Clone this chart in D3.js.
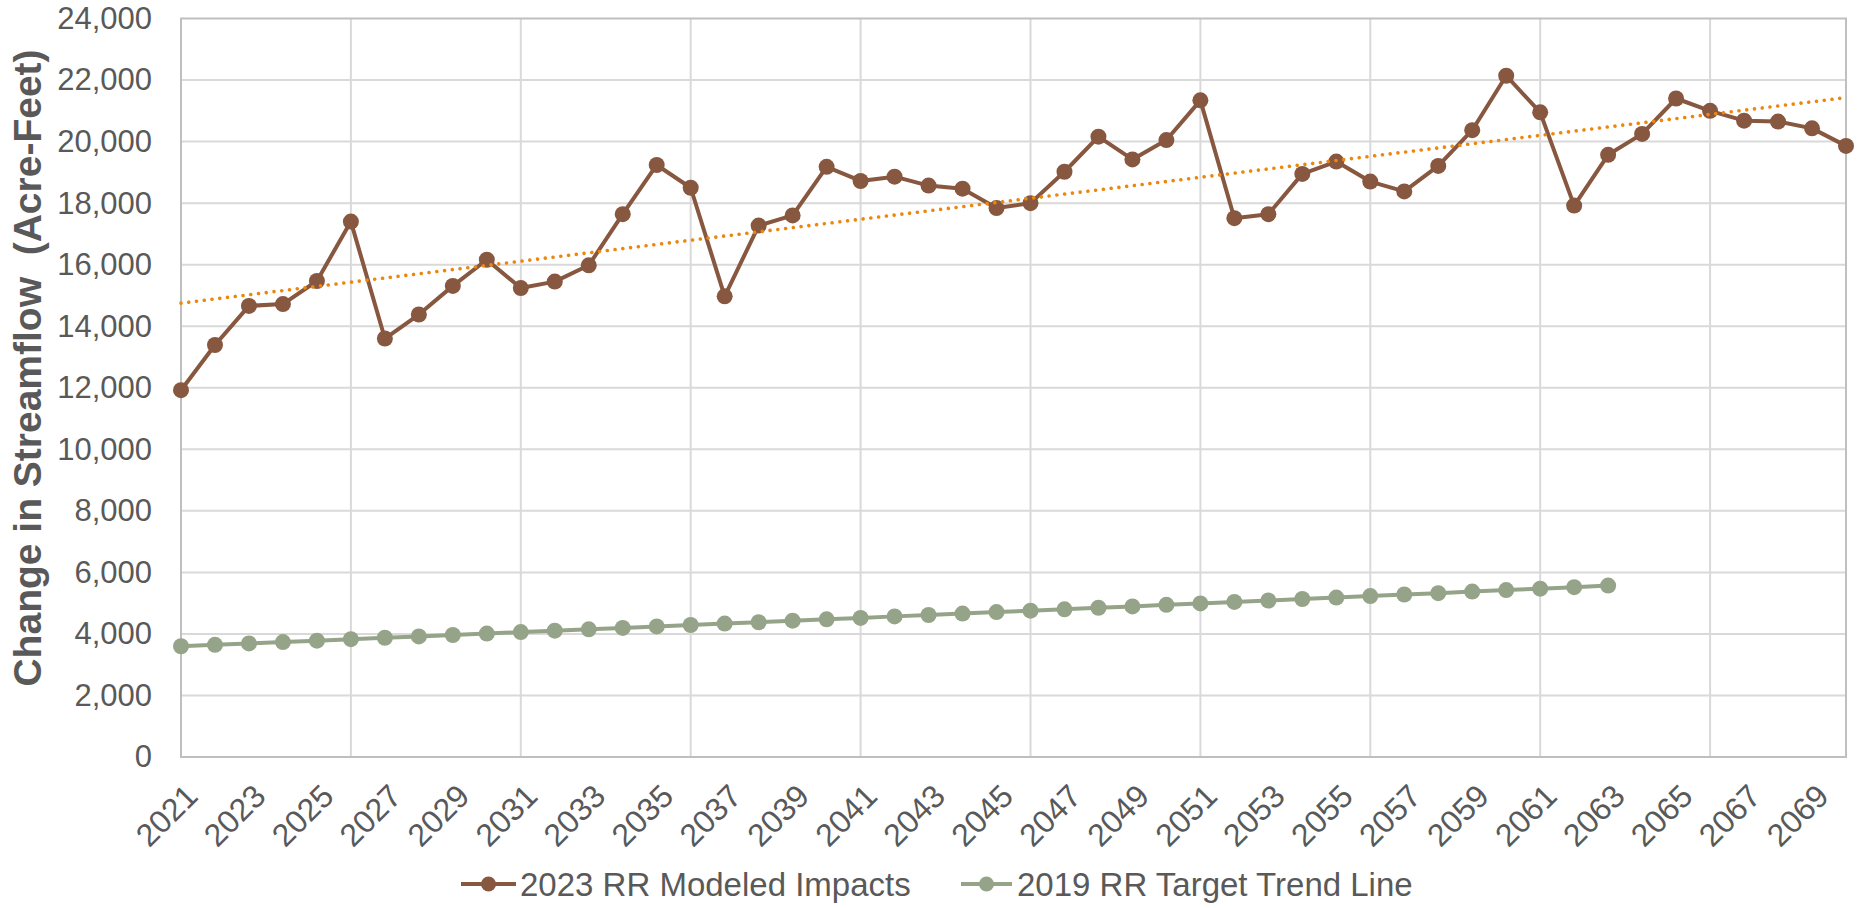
<!DOCTYPE html>
<html>
<head>
<meta charset="utf-8">
<script src="https://cdn.jsdelivr.net/npm/d3@7"></script>
<style>
  html, body { margin: 0; padding: 0; background: #fff; }
  svg { display: block; }
  text { font-family: "Liberation Sans", Arial, sans-serif; fill: #595959; }
</style>
</head>
<body>
<svg id="chart" width="1865" height="908"></svg>
<script>
// ---- data ----
const years = d3.range(2021, 2071).map(String); // categories 2021..2070
const modeledImpacts = [
  11920, 13390, 14660, 14720, 15470, 17400, 13600, 14380, 15310, 16160,
  15240, 15450, 15980, 17640, 19240, 18500, 14970, 17270, 17600, 19180,
  18720, 18860, 18570, 18470, 17840, 18000, 19020, 20160, 19420, 20050,
  21340, 17510, 17640, 18950, 19350, 18700, 18380, 19210, 20370, 22140,
  20950, 17920, 19570, 20250, 21400, 21000, 20680, 20650, 20430, 19860
];
const targetTrend = [
  3600, 3645, 3690, 3735, 3780, 3830, 3875, 3920, 3965, 4010,
  4060, 4105, 4150, 4195, 4245, 4290, 4335, 4380, 4430, 4475,
  4520, 4570, 4615, 4660, 4710, 4755, 4800, 4850, 4895, 4945,
  4990, 5040, 5085, 5135, 5180, 5230, 5280, 5325, 5375, 5425,
  5470, 5520, 5570
];
const trendYears = ["2021", "2070"];
const trendValues = [14750, 21430];
const xTickLabels = d3.range(2021, 2070, 2).map(String);
const xGridYears = d3.range(2021, 2070, 5).map(String);
const yTicks = d3.range(0, 24001, 2000);
const seriesNames = ["2023 RR Modeled Impacts", "2019 RR Target Trend Line"];
const yTitle = "Change in Streamflow  (Acre-Feet)";

// ---- layout ----
const L = 181, R = 1846, T = 18.5, B = 757;
const brown = "#87573f", green = "#95a488", orange = "#ec870e";

const svg = d3.select("#chart");
const x = d3.scalePoint().domain(years).range([L, R]).padding(0);
const y = d3.scaleLinear().domain([0, 24000]).range([B, T]);

// horizontal gridlines
svg.append("g").selectAll("line").data(yTicks.filter(d => d > 0 && d < 24000)).join("line")
  .attr("x1", L).attr("x2", R).attr("y1", d => y(d)).attr("y2", d => y(d))
  .attr("stroke", "#d9d9d9").attr("stroke-width", 2);
// vertical gridlines
svg.append("g").selectAll("line").data(xGridYears.slice(1)).join("line")
  .attr("x1", d => x(d)).attr("x2", d => x(d)).attr("y1", T).attr("y2", B)
  .attr("stroke", "#d9d9d9").attr("stroke-width", 2);
// plot border
svg.append("rect").attr("x", L).attr("y", T).attr("width", R - L).attr("height", B - T)
  .attr("fill", "none").attr("stroke", "#bfbfbf").attr("stroke-width", 2);

// y axis labels
const yAxis = d3.axisLeft(y).tickValues(yTicks).tickSize(0).tickPadding(29)
  .tickFormat(d3.format(","));
const gy = svg.append("g").attr("transform", `translate(${L},0)`).call(yAxis);
gy.select(".domain").remove();
gy.selectAll("text").attr("font-size", 31).attr("fill", "#595959")
  .style("font-family", '"Liberation Sans", Arial, sans-serif');

// x axis labels
const xAxis = d3.axisBottom(x).tickValues(xTickLabels).tickSize(0).tickPadding(0);
const gx = svg.append("g").attr("transform", `translate(0,${B})`).call(xAxis);
gx.select(".domain").remove();
gx.selectAll("text")
  .attr("font-size", 32).attr("fill", "#595959")
  .style("font-family", '"Liberation Sans", Arial, sans-serif')
  .attr("text-anchor", "end")
  .attr("x", 0).attr("y", 0).attr("dy", "0.71em")
  .attr("transform", "translate(2,25) rotate(-45)");

// y title
svg.append("text")
  .attr("transform", `translate(41,368) rotate(-90)`)
  .attr("text-anchor", "middle")
  .attr("font-size", 39).attr("font-weight", "bold").attr("fill", "#595959")
  .style("white-space", "pre")
  .text(yTitle);

// lines
const line = d3.line().x(d => x(d[0])).y(d => y(d[1]));
const brownData = years.map((yr, i) => [yr, modeledImpacts[i]]);
const greenData = targetTrend.map((v, i) => [years[i], v]);

svg.append("path").datum(brownData).attr("d", line)
  .attr("fill", "none").attr("stroke", brown).attr("stroke-width", 4).attr("stroke-linejoin", "round");
svg.append("g").selectAll("circle").data(brownData).join("circle")
  .attr("cx", d => x(d[0])).attr("cy", d => y(d[1])).attr("r", 8).attr("fill", brown);

svg.append("path").datum(greenData).attr("d", line)
  .attr("fill", "none").attr("stroke", green).attr("stroke-width", 4).attr("stroke-linejoin", "round");
svg.append("g").selectAll("circle").data(greenData).join("circle")
  .attr("cx", d => x(d[0])).attr("cy", d => y(d[1])).attr("r", 8).attr("fill", green);

// linear trendline (dotted)
svg.append("path").datum(trendYears.map((yr, i) => [yr, trendValues[i]])).attr("d", line)
  .attr("fill", "none").attr("stroke", orange).attr("stroke-width", 3.6)
  .attr("stroke-linecap", "round").attr("stroke-dasharray", "0.01 7.8");

// legend
const legend = [
  { name: seriesNames[0], color: brown, x0: 461, x1: 516, tx: 520 },
  { name: seriesNames[1], color: green, x0: 961, x1: 1012, tx: 1017 }
];
const lg = svg.append("g");
legend.forEach(it => {
  lg.append("line").attr("x1", it.x0).attr("x2", it.x1).attr("y1", 884).attr("y2", 884)
    .attr("stroke", it.color).attr("stroke-width", 4);
  lg.append("circle").attr("cx", (it.x0 + it.x1) / 2).attr("cy", 884).attr("r", 7.5).attr("fill", it.color);
  lg.append("text").attr("x", it.tx).attr("y", 896).attr("font-size", 33).attr("fill", "#595959").text(it.name);
});
</script>
</body>
</html>
